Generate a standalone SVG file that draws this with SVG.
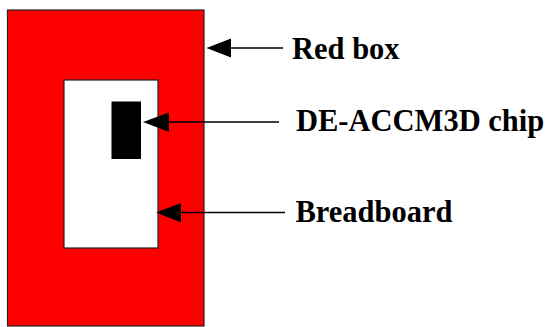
<svg xmlns="http://www.w3.org/2000/svg" width="550" height="327" viewBox="0 0 550 327">
<style>
.lbl{font-family:"Liberation Serif","Times New Roman",serif;font-weight:bold;font-size:30.5px;fill:#000}
.con{stroke:#000;stroke-width:1.5;fill:none}
.head{fill:#000}
</style>
<rect width="550" height="327" fill="#fff"/>
<g id="red-box"><rect x="7.5" y="10" width="196.5" height="316" fill="#ff0000" stroke="#222" stroke-width="1.2"/></g>
<g id="breadboard"><rect x="64" y="80" width="94" height="168" fill="#fff" stroke="#222" stroke-width="1.2"/></g>
<g id="chip"><rect x="111.5" y="101.5" width="29.5" height="57.5" fill="#000"/></g>
<g id="connectors">
<line class="con" x1="225" y1="48" x2="283" y2="48"/>
<polygon class="head" points="206.5,48 231,38.5 231,57.5"/>
<line class="con" x1="164" y1="122" x2="279" y2="122"/>
<polygon class="head" points="143,122 169,112.5 169,132"/>
<line class="con" x1="176" y1="212.5" x2="285" y2="212.5"/>
<polygon class="head" points="156,212.5 181,203 181,222.5"/>
</g>
<g id="labels">
<text class="lbl" x="292" y="58.5">Red box</text>
<text class="lbl" x="296" y="131">DE-ACCM3D chip</text>
<text class="lbl" x="295.5" y="222">Breadboard</text>
</g>
</svg>
